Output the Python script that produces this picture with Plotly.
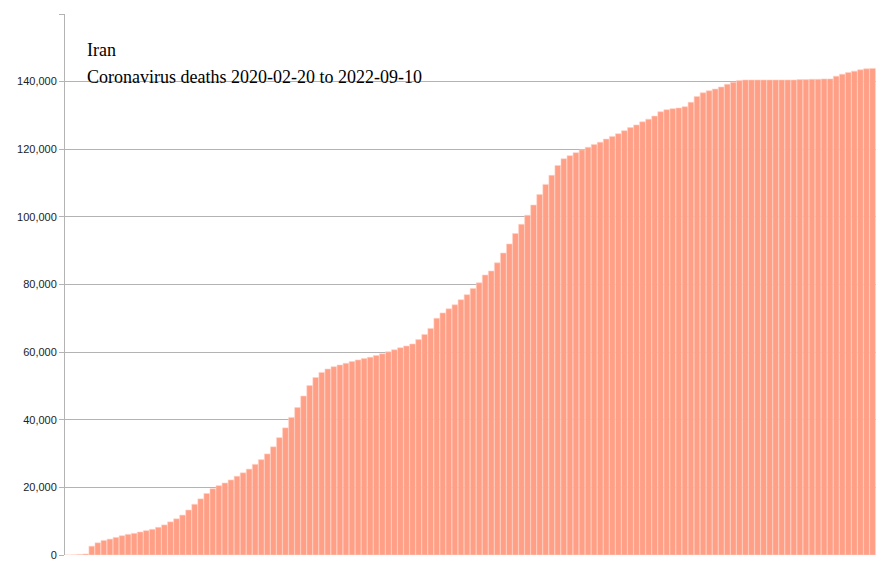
import pandas as pd
import plotly.graph_objects as go

# Weekly cumulative deaths
deaths = [0, 20, 150, 300, 2600, 3600, 4300, 4700, 5200, 5700,
          6100, 6400, 6800, 7200, 7600, 8200, 8900, 9800, 10700, 11800,
          13300, 15000, 16600, 18200, 19600, 20500, 21300, 22200, 23300, 24300,
          25400, 26800, 28200, 29900, 32000, 34700, 37600, 40700, 43600, 47000,
          50100, 52500, 54000, 55000, 55700, 56200, 56700, 57200, 57700, 58100,
          58500, 59000, 59500, 60100, 60700, 61300, 61800, 62400, 63700, 65200,
          67000, 70000, 71600, 72800, 74000, 75500, 77000, 78800, 80500, 82800,
          84000, 86400, 89300, 92000, 95100, 97800, 100500, 103500, 106600, 109600,
          112300, 115200, 117200, 118100, 119000, 119800, 120600, 121400, 122100, 123000,
          123800, 124600, 125500, 126400, 127200, 128100, 128900, 129800, 131100, 131700,
          132000, 132200, 132600, 133900, 135600, 136700, 137300, 137800, 138400, 139200,
          139800, 140300, 140500, 140500, 140500, 140500, 140500, 140500, 140500, 140500,
          140500, 140600, 140600, 140700, 140700, 140800, 140800, 141600, 142200, 142700,
          143100, 143500, 143800, 143900]
dates = pd.date_range("2020-02-20", periods=len(deaths), freq="7D")
y_ticks = [0, 20000, 40000, 60000, 80000, 100000, 120000, 140000, 160000]

fig = go.Figure()
fig.add_trace(go.Bar(x=dates, y=deaths,
                     marker=dict(color="#ff9f86", line=dict(color="#ffd2c4", width=0.6))))

# page body adds ~8px offset, so margins are shifted to compensate
fig.update_layout(
    width=891, height=577,
    margin=dict(l=57, r=23, t=6, b=30),
    plot_bgcolor="white", paper_bgcolor="white",
    bargap=0.05, showlegend=False,
    font=dict(family="Liberation Sans", size=11, color="#222"),
)
fig.update_xaxes(showticklabels=False, showgrid=False, zeroline=False,
                 range=[pd.Timestamp("2020-02-17"), pd.Timestamp("2022-09-12")])
fig.update_yaxes(range=[0, 160000], tickvals=y_ticks, tickformat=",",
                 gridcolor="#b3b3b3", showline=True, linecolor="#b3b3b3",
                 ticks="outside", tickcolor="#b3b3b3", ticklen=5, zeroline=False,
                 automargin=False)

fig.add_annotation(xref="paper", yref="paper", x=0.025, y=0.955, showarrow=False,
                   xanchor="left", text="Iran",
                   font=dict(family="Liberation Serif", size=18, color="#000"))
fig.add_annotation(xref="paper", yref="paper", x=0.025, y=0.905, showarrow=False,
                   xanchor="left", text="Coronavirus deaths 2020-02-20 to 2022-09-10",
                   font=dict(family="Liberation Serif", size=18, color="#000"))

fig.write_html("out.html")
